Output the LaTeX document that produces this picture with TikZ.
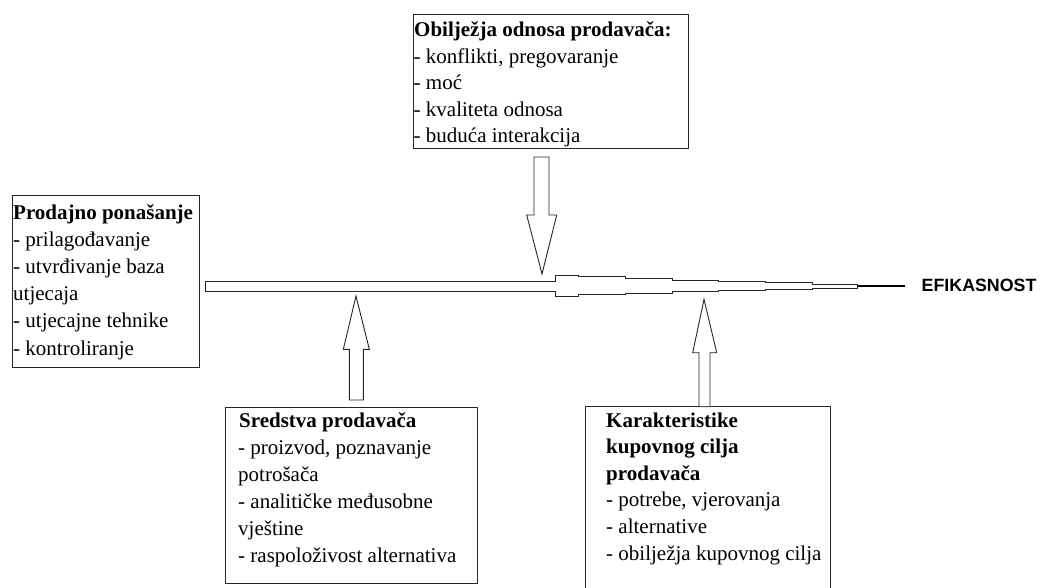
\documentclass[tikz,border=0pt]{standalone}
\usepackage{fontspec}
\setmainfont{Liberation Serif}
\newfontfamily\effont{Liberation Sans}
\begin{document}
\begin{tikzpicture}[x=1pt,y=-1pt,
  box/.style={draw=black!85, line width=0.9pt, inner sep=0pt, anchor=north west},
  txt/.style={anchor=base west, inner sep=0pt, font=\fontsize{21}{25}\selectfont},
  hd/.style={txt, font=\fontsize{21}{25}\selectfont\bfseries},
  blockshape/.style={draw=black!85, line width=0.9pt, fill=white, line join=miter}]
\useasboundingbox (0,0) rectangle (1040,588);

% boxes
\node[box, minimum width=187pt, minimum height=172pt] (pb) at (12,195) {};
\node[box, minimum width=275pt, minimum height=134pt] (ob) at (413,14) {};
\node[box, minimum width=251.7pt, minimum height=176.3pt] (sb) at (225,406.7) {};
\coordinate (kb) at (585,406.7);
\draw[draw=black!85, line width=0.9pt] (585,588) -- (kb) -- (830,406.7) -- (830,588);

% left box text
\node[hd] (p0) at (13,219) {Prodajno ponašanje};
\foreach \t [count=\i] in {{- prilagođavanje},{- utvrđivanje baza},{utjecaja},{- utjecajne tehnike},{- kontroliranje}}
  \node[txt] (p\i) at (13,219+27.2*\i) {\t};

% top box text
\node[hd] (o0) at (414,37) {Obilježja odnosa prodavača:};
\foreach \t [count=\i] in {{- konflikti, pregovaranje},{- moć},{- kvaliteta odnosa},{- buduća interakcija}}
  \node[txt] (o\i) at (413.5,37+26.5*\i) {\t};

% sredstva text
\node[hd] (s0) at (239,427) {Sredstva prodavača};
\foreach \t [count=\i] in {{- proizvod, poznavanje},{potrošača},{- analitičke međusobne},{vještine},{- raspoloživost alternativa}}
  \node[txt] (s\i) at (238,427+27*\i) {\t};

% karakteristike text
\node[hd] (k0) at (606,427) {Karakteristike};
\node[hd] (k1) at (606,453.6) {kupovnog cilja};
\node[hd] (k2) at (606,480.2) {prodavača};
\foreach \t [count=\i] in {{- potrebe, vjerovanja},{- alternative},{- obilježja kupovnog cilja}}
  \node[txt] (k\i b) at (606,480.2+26.6*\i) {\t};

% main shaft
\draw[blockshape] (205.7,281.7) -- (555,281.7) -- (555,275) -- (578,275) -- (578,276.3)
  -- (625,276.3) -- (625,278.3) -- (672,278.3) -- (672,280) -- (718,280) -- (718,281.3)
  -- (765,281.3) -- (765,282.7) -- (812,282.7) -- (812,284) -- (857,284)
  -- (857,288) -- (812,288) -- (812,289.3) -- (765,289.3) -- (765,290.7) -- (718,290.7)
  -- (718,291.7) -- (672,291.7) -- (672,293.3) -- (625,293.3) -- (625,294.7) -- (578,294.7)
  -- (578,296.7) -- (555,296.7) -- (555,291) -- (205.7,291) -- cycle;
\coordinate (endA) at (857,285.8);
\coordinate (endB) at (905,285.8);
\draw[line width=2pt] (endA) -- (endB);

% EFIKASNOST
\node[anchor=base west, inner sep=0pt, font=\effont\fontsize{17.8}{20}\selectfont\bfseries] (ef) at (921.5,291.7) {EFIKASNOST};

% block arrows
\draw[blockshape] (534,157) -- (549,157) -- (549,215) -- (556.7,215) -- (542,274) -- (526.7,215) -- (534,215) -- cycle;
\draw[blockshape] (349.3,400) -- (363.3,400) -- (363.3,349.3) -- (369.3,349.3) -- (356,296) -- (343.3,349.3) -- (349.3,349.3) -- cycle;
\draw[blockshape] (699,406.7) -- (710,406.7) -- (710,352.7) -- (716.7,352.7) -- (704,299.3) -- (692.7,352.7) -- (699,352.7) -- cycle;
\end{tikzpicture}
\end{document}
